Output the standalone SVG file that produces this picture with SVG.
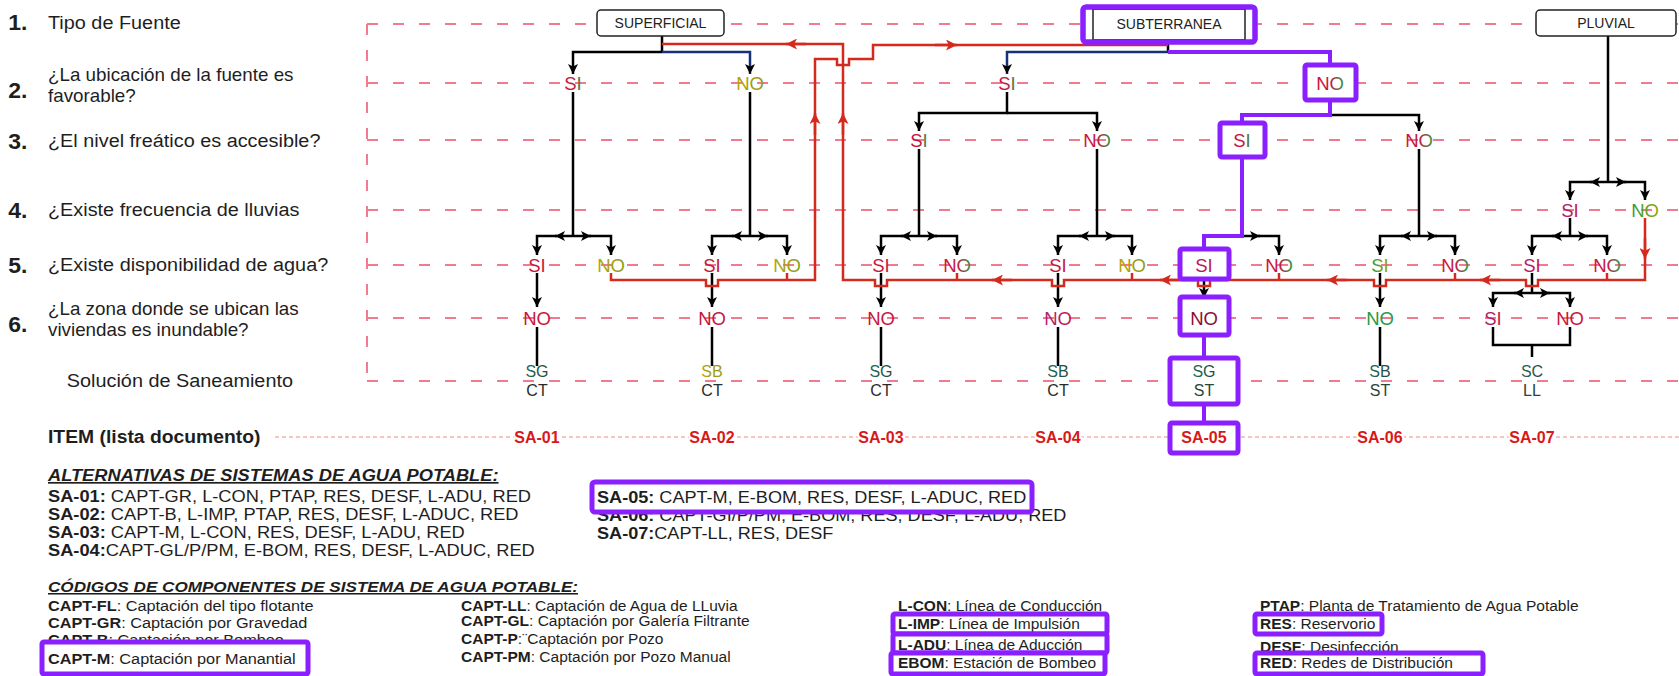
<svg xmlns="http://www.w3.org/2000/svg" width="1679" height="676" viewBox="0 0 1679 676">
<defs>
<style>
text{font-family:"Liberation Sans",Arial,sans-serif}
.q{font-size:19px;fill:#1e1e1e}
.q2{font-size:18px;fill:#1e1e1e}
.num{font-size:22px;font-weight:bold;fill:#1e1e1e}
.lbl{font-size:18.5px;text-anchor:middle}
.sol{font-size:16px;text-anchor:middle}
.sa{font-size:16px;font-weight:bold;fill:#d61a1a;text-anchor:middle;stroke:#fff;stroke-width:4;paint-order:stroke}
.alt{font-size:17px;fill:#1e1e1e}
.leg{font-size:15.5px;fill:#1e1e1e}
.b{font-weight:bold}
.ttl{font-weight:bold;font-style:italic;text-decoration:underline}
.box{fill:#fff;stroke:#222;stroke-width:1.5}
.bt{font-size:14px;fill:#222;text-anchor:middle}
.hl{fill:#fff;stroke:#8a1fff;stroke-width:5}
.hs{fill:none;stroke:#8a1fff;stroke-width:5}
.grid{stroke:#f27a90;stroke-width:2;stroke-dasharray:11 15;fill:none}
.k{stroke:#000;stroke-width:2.5;fill:none}
.kb{stroke:#17307a;stroke-width:2.5;fill:none}
.r{stroke:#d42a1e;stroke-width:2.5;fill:none}
.p{stroke:#8a1fff;stroke-width:4;fill:none}
.ka{marker-end:url(#ab)}
.ra{marker-end:url(#ar)}
</style>
<marker id="ab" viewBox="0 0 10 10" refX="10" refY="5" markerWidth="10" markerHeight="10" markerUnits="userSpaceOnUse" orient="auto"><path d="M0,0 L10,5 L0,10 L2.5,5 z" fill="#000"/></marker>
<marker id="ar" viewBox="0 0 10 10" refX="10" refY="5" markerWidth="11" markerHeight="11" markerUnits="userSpaceOnUse" orient="auto"><path d="M0,0 L10,5 L0,10 L2.5,5 z" fill="#d42a1e"/></marker>
<linearGradient id="gA"><stop offset="0" stop-color="#d0143c"/><stop offset="0.5" stop-color="#c4183e"/><stop offset="1" stop-color="#2e9a44"/></linearGradient>
<linearGradient id="gB"><stop offset="0" stop-color="#b8a400"/><stop offset="1" stop-color="#8c9c14"/></linearGradient>
<linearGradient id="gD"><stop offset="0" stop-color="#a8207e"/><stop offset="1" stop-color="#c8163e"/></linearGradient>
<linearGradient id="gG"><stop offset="0" stop-color="#2a9a44"/><stop offset="1" stop-color="#9aa400"/></linearGradient>
<linearGradient id="gT"><stop offset="0" stop-color="#1f6e5c"/><stop offset="1" stop-color="#28463a"/></linearGradient>
</defs>
<rect width="1679" height="676" fill="#fff"/>

<g id="grid">
<path class="grid" d="M367,24 V381 M367,24 H1679 M367,83 H1679 M367,140 H1679 M367,210 H1679 M367,265 H1679 M367,318 H1679 M367,381 H1679"/>
<path d="M275,437 H1679" stroke="#f08a8a" stroke-width="1.2" stroke-dasharray="4 3" fill="none"/>
</g>

<g id="questions" transform="translate(48,0) scale(1.045,1) translate(-48,0)">
<text class="num" x="10" y="30">1.</text><text class="q" x="48" y="29">Tipo de Fuente</text>
<text class="num" x="10" y="98">2.</text><text class="q2" x="48" y="81">¿La ubicación de la fuente es</text><text class="q2" x="48" y="102">favorable?</text>
<text class="num" x="10" y="149">3.</text><text class="q" x="48" y="147">¿El nivel freático es accesible?</text>
<text class="num" x="10" y="218">4.</text><text class="q" x="48" y="216">¿Existe frecuencia de lluvias</text>
<text class="num" x="10" y="273">5.</text><text class="q" x="48" y="271">¿Existe disponibilidad de agua?</text>
<text class="num" x="10" y="332">6.</text><text class="q2" x="48" y="315">¿La zona donde se ubican las</text><text class="q2" x="48" y="336">viviendas es inundable?</text>
<text class="q" x="66" y="387">Solución de Saneamiento</text>
<text class="q b" x="48" y="443" style="font-size:18.5px">ITEM (lista documento)</text>
</g>

<g id="connectors">
<path class="k" d="M662,36 V52"/>
<path class="k ka" d="M662,52 H573 V74"/>
<path class="kb ka" d="M662,52 H750 V74"/>
<path class="k" d="M1168,42 V52"/>
<path class="kb ka" d="M1168,52 H1007 V74"/>
<path class="k ka" d="M1007,92 V113 H919 V131"/>
<path class="k ka" d="M1007,113 H1097 V131"/>
<path class="k ka" d="M1330,115 H1419 V131"/>
<path class="k" d="M1608,36 V182"/>
<path class="k ka" d="M1608,182 H1590"/><path class="k ka" d="M1592,182 H1570 V200"/>
<path class="k ka" d="M1608,182 H1626"/><path class="k ka" d="M1624,182 H1645 V200"/>
<path class="k" d="M573,92 V236 M750,92 V236 M919,149 V236 M1097,149 V236 M1419,149 V236 M1570,218 V236"/>
<path class="k ka" d="M573,236 H555"/><path class="k ka" d="M557,236 H537 V255"/><path class="k ka" d="M573,236 H591"/><path class="k ka" d="M589,236 H611 V255"/>
<path class="k ka" d="M750,236 H732"/><path class="k ka" d="M734,236 H712 V255"/><path class="k ka" d="M750,236 H768"/><path class="k ka" d="M766,236 H787 V255"/>
<path class="k ka" d="M919,236 H901"/><path class="k ka" d="M903,236 H881 V255"/><path class="k ka" d="M919,236 H937"/><path class="k ka" d="M935,236 H957 V255"/>
<path class="k ka" d="M1097,236 H1079"/><path class="k ka" d="M1081,236 H1058 V255"/><path class="k ka" d="M1097,236 H1115"/><path class="k ka" d="M1113,236 H1132 V255"/>
<path class="k ka" d="M1242,236 H1260"/><path class="k ka" d="M1258,236 H1279 V255"/>
<path class="k ka" d="M1419,236 H1401"/><path class="k ka" d="M1403,236 H1380 V255"/><path class="k ka" d="M1419,236 H1437"/><path class="k ka" d="M1435,236 H1455 V255"/>
<path class="k ka" d="M1570,236 H1552"/><path class="k ka" d="M1554,236 H1532 V255"/><path class="k ka" d="M1570,236 H1588"/><path class="k ka" d="M1586,236 H1607 V255"/>
<path class="k ka" d="M537,273 V307"/><path class="k ka" d="M712,273 V307"/><path class="k ka" d="M881,273 V307"/><path class="k ka" d="M1058,273 V307"/><path class="k ka" d="M1380,273 V307"/>
<path class="k ka" d="M1204,279 V298"/>
<path class="k" d="M1532,273 V293"/>
<path class="k ka" d="M1532,293 H1514"/><path class="k ka" d="M1516,293 H1493 V307"/><path class="k ka" d="M1532,293 H1550"/><path class="k ka" d="M1548,293 H1570 V307"/>
<path class="k" d="M537,327 V366 M712,327 V366 M881,327 V366 M1058,327 V366 M1380,327 V366"/>
<path class="k" d="M1493,327 V345 H1570 V327 M1532,345 V357"/>
<path class="r" d="M611,273 V280 H706 V286 H718 V280 H815 V59 H837 V65 H849 V59 H873 V45 H1168"/>
<path class="r" d="M787,273 V280"/>
<path class="r ra" d="M815,135 V113"/>
<path class="r ra" d="M935,45 H957"/>
<path class="r" d="M1645,218 V280 H1538 V286 H1526 V280 H1386 V286 H1374 V280 H1210 V286 H1198 V280 H1064 V286 H1052 V280 H887 V286 H875 V280 H843 V44 H662"/>
<path class="r" d="M1607,273 V280 M1455,273 V280 M1279,273 V280 M1132,273 V280 M957,273 V280"/>
<path class="r ra" d="M1645,238 V259"/>
<path class="r ra" d="M1500,280 H1480"/>
<path class="r ra" d="M1347,280 H1327"/>
<path class="r ra" d="M1180,280 H1160"/>
<path class="r ra" d="M1012,280 H992"/>
<path class="r ra" d="M843,135 V113"/>
<path class="r ra" d="M806,44 H786"/>
<path class="p" d="M1168,52 H1330 V66"/>
<path class="p" d="M1330,100 V115 H1242 V124"/>
<path class="p" d="M1242,157 V236 H1204 V249"/>
<path class="p" d="M1204,335 V358 M1204,404 V423"/>
</g>

<g id="n-superficial"><rect class="box" x="597" y="10" width="127" height="26" rx="4"/><text class="bt" x="660.5" y="28">SUPERFICIAL</text></g>
<g id="n-subterranea"><rect class="hl" x="1083" y="7" width="172" height="35" rx="3"/><rect fill="none" stroke="#222" stroke-width="1.5" x="1093" y="9" width="152" height="31"/><text class="bt" x="1169" y="29">SUBTERRANEA</text><rect class="hs" x="1083" y="7" width="172" height="35" rx="3"/></g>
<g id="n-pluvial"><rect class="box" x="1536" y="10" width="140" height="26" rx="4"/><text class="bt" x="1606" y="28">PLUVIAL</text></g>

<g id="n-r2-si1"><text class="lbl" x="573" y="89.5" fill="url(#gA)">SI</text></g>
<g id="n-r2-no1"><text class="lbl" x="750" y="89.5" fill="url(#gB)">NO</text></g>
<g id="n-r2-si2"><text class="lbl" x="1007" y="89.5" fill="url(#gA)">SI</text></g>
<g id="n-r2-no2"><rect class="hl" x="1305" y="65" width="51" height="35" rx="2"/><text class="lbl" x="1330" y="89.5" fill="url(#gA)">NO</text></g>

<g id="n-r3-si1"><text class="lbl" x="919" y="146.5" fill="url(#gA)">SI</text></g>
<g id="n-r3-no1"><text class="lbl" x="1097" y="146.5" fill="url(#gA)">NO</text></g>
<g id="n-r3-si2"><rect class="hl" x="1220" y="123" width="45" height="34" rx="2"/><text class="lbl" x="1242" y="146.5" fill="url(#gA)">SI</text></g>
<g id="n-r3-no2"><text class="lbl" x="1419" y="146.5" fill="url(#gA)">NO</text></g>

<g id="n-r4-si"><text class="lbl" x="1570" y="216.5" fill="url(#gD)">SI</text></g>
<g id="n-r4-no"><text class="lbl" x="1645" y="216.5" fill="url(#gG)">NO</text></g>

<g id="n-r5-si1"><text class="lbl" x="537" y="271.5" fill="#c8163c">SI</text></g>
<g id="n-r5-no1"><text class="lbl" x="611" y="271.5" fill="url(#gB)">NO</text></g>
<g id="n-r5-si2"><text class="lbl" x="712" y="271.5" fill="#c8163c">SI</text></g>
<g id="n-r5-no2"><text class="lbl" x="787" y="271.5" fill="url(#gB)">NO</text></g>
<g id="n-r5-si3"><text class="lbl" x="881" y="271.5" fill="#c8163c">SI</text></g>
<g id="n-r5-no3"><text class="lbl" x="957" y="271.5" fill="url(#gA)">NO</text></g>
<g id="n-r5-si4"><text class="lbl" x="1058" y="271.5" fill="#c8163c">SI</text></g>
<g id="n-r5-no4"><text class="lbl" x="1132" y="271.5" fill="url(#gB)">NO</text></g>
<g id="n-r5-si5"><rect class="hl" x="1180" y="249" width="49" height="30" rx="2"/><text class="lbl" x="1204" y="271.5" fill="#b8185a">SI</text></g>
<g id="n-r5-no5"><text class="lbl" x="1279" y="271.5" fill="url(#gA)">NO</text></g>
<g id="n-r5-si6"><text class="lbl" x="1380" y="271.5" fill="url(#gG)">SI</text></g>
<g id="n-r5-no6"><text class="lbl" x="1455" y="271.5" fill="url(#gA)">NO</text></g>
<g id="n-r5-si7"><text class="lbl" x="1532" y="271.5" fill="url(#gD)">SI</text></g>
<g id="n-r5-no7"><text class="lbl" x="1607" y="271.5" fill="url(#gA)">NO</text></g>

<g id="n-r6-no1"><text class="lbl" x="537" y="324.5" fill="#c8163c">NO</text></g>
<g id="n-r6-no2"><text class="lbl" x="712" y="324.5" fill="#c8163c">NO</text></g>
<g id="n-r6-no3"><text class="lbl" x="881" y="324.5" fill="#c8163c">NO</text></g>
<g id="n-r6-no4"><text class="lbl" x="1058" y="324.5" fill="url(#gD)">NO</text></g>
<g id="n-r6-no5"><rect class="hl" x="1180" y="297" width="49" height="38" rx="2"/><text class="lbl" x="1204" y="324.5" fill="#8a1030">NO</text></g>
<g id="n-r6-no6"><text class="lbl" x="1380" y="324.5" fill="#2a9a44">NO</text></g>
<g id="n-r6-si7"><text class="lbl" x="1493" y="324.5" fill="url(#gD)">SI</text></g>
<g id="n-r6-no7"><text class="lbl" x="1570" y="324.5" fill="#c8163c">NO</text></g>

<g id="n-sol1"><text class="sol" x="537" y="377" fill="url(#gT)">SG</text><text class="sol" x="537" y="396" fill="#2a2a2a">CT</text></g>
<g id="n-sol2"><text class="sol" x="712" y="377" fill="url(#gB)">SB</text><text class="sol" x="712" y="396" fill="#2a2a2a">CT</text></g>
<g id="n-sol3"><text class="sol" x="881" y="377" fill="url(#gT)">SG</text><text class="sol" x="881" y="396" fill="#2a2a2a">CT</text></g>
<g id="n-sol4"><text class="sol" x="1058" y="377" fill="url(#gT)">SB</text><text class="sol" x="1058" y="396" fill="#2a2a2a">CT</text></g>
<g id="n-sol5"><rect class="hl" x="1170" y="358" width="68" height="46" rx="2"/><text class="sol" x="1204" y="377" fill="url(#gT)">SG</text><text class="sol" x="1204" y="396" fill="#28463a">ST</text></g>
<g id="n-sol6"><text class="sol" x="1380" y="377" fill="url(#gT)">SB</text><text class="sol" x="1380" y="396" fill="#28463a">ST</text></g>
<g id="n-sol7"><text class="sol" x="1532" y="377" fill="url(#gT)">SC</text><text class="sol" x="1532" y="396" fill="#28463a">LL</text></g>

<g id="n-items">
<text class="sa" x="537" y="443">SA-01</text>
<text class="sa" x="712" y="443">SA-02</text>
<text class="sa" x="881" y="443">SA-03</text>
<text class="sa" x="1058" y="443">SA-04</text>
<rect class="hl" x="1170" y="423" width="68" height="30" rx="2"/>
<text class="sa" x="1204" y="443">SA-05</text>
<text class="sa" x="1380" y="443">SA-06</text>
<text class="sa" x="1532" y="443">SA-07</text>
</g>

<g id="alternativas">
<g transform="translate(48,0) scale(1.075,1) translate(-48,0)">
<text class="alt ttl" x="48" y="481">ALTERNATIVAS DE SISTEMAS DE AGUA POTABLE:</text>
<text class="alt" x="48" y="502"><tspan class="b">SA-01:</tspan> CAPT-GR, L-CON, PTAP, RES, DESF, L-ADU, RED</text>
<text class="alt" x="48" y="520"><tspan class="b">SA-02:</tspan> CAPT-B, L-IMP, PTAP, RES, DESF, L-ADUC, RED</text>
<text class="alt" x="48" y="538"><tspan class="b">SA-03:</tspan> CAPT-M, L-CON, RES, DESF, L-ADU, RED</text>
<text class="alt" x="48" y="556"><tspan class="b">SA-04:</tspan>CAPT-GL/P/PM, E-BOM, RES, DESF, L-ADUC, RED</text>
</g>
<g transform="translate(597,0) scale(1.065,1) translate(-597,0)">
<text class="alt" x="597" y="521"><tspan class="b">SA-06:</tspan> CAPT-GI/P/PM, E-BOM, RES, DESF, L-ADU, RED</text>
<text class="alt" x="597" y="539"><tspan class="b">SA-07:</tspan>CAPT-LL, RES, DESF</text>
</g>
<rect fill="#fff" x="592" y="482" width="440" height="30"/>
<text class="alt" x="597" y="503" transform="translate(597,0) scale(1.065,1) translate(-597,0)"><tspan class="b">SA-05:</tspan> CAPT-M, E-BOM, RES, DESF, L-ADUC, RED</text>
<rect class="hs" x="592" y="482" width="440" height="30" rx="3"/>
</g>

<g id="codigos">
<text class="leg ttl" x="48" y="592" textLength="530" lengthAdjust="spacingAndGlyphs">CÓDIGOS DE COMPONENTES DE SISTEMA DE AGUA POTABLE:</text>
<g transform="translate(48,0) scale(1.05,1) translate(-48,0)">
<text class="leg" x="48" y="611"><tspan class="b">CAPT-FL</tspan>: Captación del tipo flotante</text>
<text class="leg" x="48" y="628"><tspan class="b">CAPT-GR</tspan>: Captación por Gravedad</text>
<text class="leg" x="48" y="645"><tspan class="b">CAPT-B</tspan>: Captación por Bombeo</text>
</g>
<text class="leg" x="461" y="611"><tspan class="b">CAPT-LL</tspan>: Captación de Agua de LLuvia</text>
<text class="leg" x="461" y="626"><tspan class="b">CAPT-GL</tspan>: Captación por Galería Filtrante</text>
<text class="leg" x="461" y="644"><tspan class="b">CAPT-P</tspan>:¨Captación por Pozo</text>
<text class="leg" x="461" y="662"><tspan class="b">CAPT-PM</tspan>: Captación por Pozo Manual</text>
<text class="leg" x="898" y="611"><tspan class="b">L-CON</tspan>: Línea de Conducción</text>
<text class="leg" x="1260" y="611"><tspan class="b">PTAP</tspan>: Planta de Tratamiento de Agua Potable</text>
<text class="leg" x="1260" y="652"><tspan class="b">DESF</tspan>: Desinfección</text>
<rect fill="#fff" x="42" y="642" width="266" height="32"/>
<text class="leg" x="48" y="664" transform="translate(48,0) scale(1.05,1) translate(-48,0)"><tspan class="b">CAPT-M</tspan>: Captación por Manantial</text>
<rect class="hs" x="42" y="642" width="266" height="32" rx="2"/>
<rect fill="#fff" x="893" y="614" width="214" height="20"/>
<text class="leg" x="898" y="629"><tspan class="b">L-IMP</tspan>: Línea de Impulsión</text>
<rect class="hs" x="893" y="614" width="214" height="20" rx="2"/>
<rect fill="#fff" x="893" y="634" width="214" height="19"/>
<text class="leg" x="898" y="650"><tspan class="b">L-ADU</tspan>: Línea de Aducción</text>
<rect class="hs" x="893" y="634" width="214" height="19" rx="2"/>
<rect fill="#fff" x="891" y="653" width="214" height="21"/>
<text class="leg" x="898" y="668"><tspan class="b">EBOM</tspan>: Estación de Bombeo</text>
<rect class="hs" x="891" y="653" width="214" height="21" rx="2"/>
<rect fill="#fff" x="1255" y="614" width="127" height="20"/>
<text class="leg" x="1260" y="629"><tspan class="b">RES</tspan>: Reservorio</text>
<rect class="hs" x="1255" y="614" width="127" height="20" rx="2"/>
<rect fill="#fff" x="1255" y="653" width="228" height="21"/>
<text class="leg" x="1260" y="668"><tspan class="b">RED</tspan>: Redes de Distribución</text>
<rect class="hs" x="1255" y="653" width="228" height="21" rx="2"/>
</g>
</svg>
